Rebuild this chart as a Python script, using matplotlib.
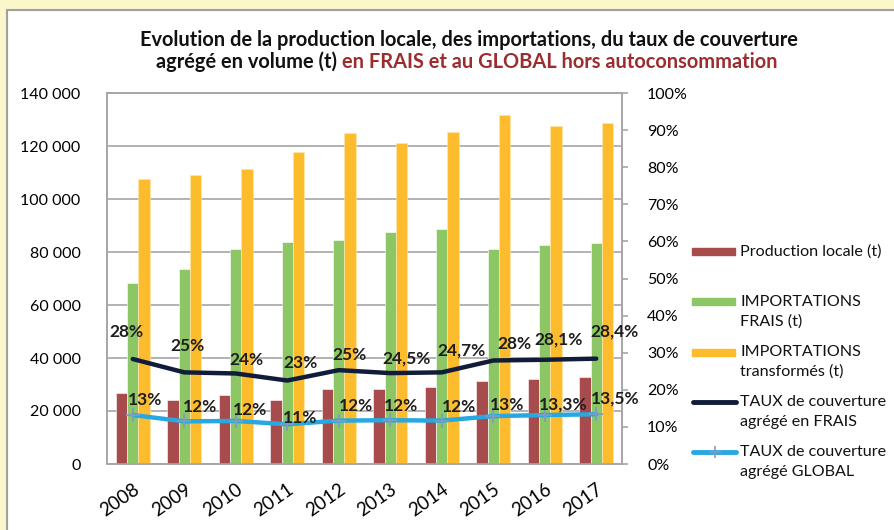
import matplotlib
matplotlib.use('Agg')
import matplotlib.pyplot as plt
from matplotlib.patches import Rectangle
from matplotlib.lines import Line2D
import numpy as np

plt.rcParams['font.family'] = ['Lato', 'DejaVu Sans']

# ---------------- data ----------------
years = ['2008', '2009', '2010', '2011', '2012', '2013', '2014', '2015', '2016', '2017']
production_locale = [26700, 24000, 26000, 24200, 28300, 28300, 29000, 31400, 32200, 33000]
importations_frais = [68200, 73700, 81300, 83600, 84500, 87400, 88800, 81300, 82800, 83500]
importations_transformes = [107700, 109200, 111400, 117900, 124800, 121300, 125200, 131700, 127700, 128800]
taux_frais = [28.3, 24.7, 24.4, 22.5, 25.3, 24.5, 24.7, 27.9, 28.1, 28.4]
taux_global = [13.2, 11.5, 11.6, 10.7, 11.7, 11.8, 11.7, 12.9, 13.2, 13.4]
labels_frais = ['28%', '25%', '24%', '23%', '25%', '24,5%', '24,7%', '28%', '28,1%', '28,4%']
labels_global = ['13%', '12%', '12%', '11%', '12%', '12%', '12%', '13%', '13,3%', '13,5%']
left_ticks = [0, 20000, 40000, 60000, 80000, 100000, 120000, 140000]
left_tick_labels = ['0', '20 000', '40 000', '60 000', '80 000', '100 000', '120 000', '140 000']
right_ticks = [0, 10, 20, 30, 40, 50, 60, 70, 80, 90, 100]
right_tick_labels = ['0%', '10%', '20%', '30%', '40%', '50%', '60%', '70%', '80%', '90%', '100%']
legend_labels = [['Production locale (t)'],
                 ['IMPORTATIONS', 'FRAIS (t)'],
                 ['IMPORTATIONS', 'transformés (t)'],
                 ['TAUX de couverture', 'agrégé en FRAIS'],
                 ['TAUX de couverture', 'agrégé GLOBAL']]
title_line1 = 'Evolution de la production locale, des importations, du taux de couverture'
title_line2a = 'agrégé en volume (t) '
title_line2b = 'en FRAIS et au GLOBAL hors autoconsommation'

# ---------------- style ----------------
W, H = 894, 530
C_RED = '#A84B4D'
C_GREEN = '#8CC665'
C_ORANGE = '#FDBC2E'
C_NAVY = '#101C3A'
C_BLUE = '#27A8E0'
C_MARK = '#7F9CC4'
C_GRID = '#A6A6A6'
C_TITLE_RED = '#9B2D2F'
# label offsets in pixels (dx, dy down-positive) relative to the point
off_frais = [(-6, -27), (3, -26), (11, -13), (13, -18), (11, -15), (16, -15), (20, -22), (21, -16), (14, -20), (18, -27)]
off_global = [(12, -15), (16, -14), (14, -11), (13, -6), (17, -15), (11, -14), (17, -14), (14, -11), (18, -11), (19, -16)]

def fx(px):
    return px / W

def fy(py):
    return 1 - py / H

fig = plt.figure(figsize=(W / 100, H / 100), dpi=100)
fig.patch.set_facecolor('white')

# frame (yellow band + grey border)
fig.patches.append(Rectangle((0, 0), fx(7), 1, transform=fig.transFigure, color='#FBF7CB', zorder=0))
fig.patches.append(Rectangle((0, fy(10)), 1, 10 / H, transform=fig.transFigure, color='#FBF7CB', zorder=0))
fig.add_artist(Line2D([fx(7), fx(7)], [0, fy(10)], transform=fig.transFigure, color='#A0A0A0', lw=1.5))
fig.add_artist(Line2D([fx(7), 1], [fy(10), fy(10)], transform=fig.transFigure, color='#A0A0A0', lw=1.5))

ax = fig.add_axes([fx(107), 1 - 464 / H, (622 - 107) / W, (464 - 93) / H])
ax2 = ax.twinx()

x = np.arange(len(years))
w = 0.22
ax.bar(x - w, production_locale, w, color=C_RED, edgecolor='white', linewidth=0.4, zorder=3)
ax.bar(x, importations_frais, w, color=C_GREEN, edgecolor='white', linewidth=0.4, zorder=3)
ax.bar(x + w, importations_transformes, w, color=C_ORANGE, edgecolor='#FFE9A8', linewidth=0.4, zorder=3)

ax.set_xlim(-0.5, len(years) - 0.5)
ax.set_ylim(0, 140000)
ax.set_yticks(left_ticks)
ax.set_yticklabels(left_tick_labels)
ax.yaxis.grid(True, color=C_GRID, linewidth=1.2)
ax.set_axisbelow(True)
ax.tick_params(axis='y', length=0, pad=19, labelsize=11.5)
ax.set_xticks(x)
ax.set_xticklabels(years, rotation=35, ha='right', rotation_mode='anchor', fontsize=13.5)
ax.tick_params(axis='x', length=0, pad=12)

ax2.plot(x, taux_frais, color=C_NAVY, lw=3.2, solid_capstyle='round', zorder=4)
ax2.plot(x, taux_global, color=C_BLUE, lw=3.2, marker='+', ms=10, mec=C_MARK, mew=1.3,
         solid_capstyle='round', zorder=4)
ax2.set_ylim(0, 100)
ax2.set_yticks(right_ticks)
ax2.set_yticklabels(right_tick_labels)
ax2.tick_params(axis='y', length=4, width=1.2, color=C_GRID, pad=14, labelsize=11.5)

for a in (ax, ax2):
    for s in a.spines.values():
        s.set_color(C_GRID)
        s.set_linewidth(1.2)

for i, lbl in enumerate(labels_frais):
    dx, dy = off_frais[i]
    ax2.annotate(lbl, (x[i], taux_frais[i]), xytext=(dx, -dy), textcoords='offset pixels',
                 ha='center', va='center', fontsize=12.5, fontweight='bold', color='#1E1E1E', zorder=6)
for i, lbl in enumerate(labels_global):
    dx, dy = off_global[i]
    ax2.annotate(lbl, (x[i], taux_global[i]), xytext=(dx, -dy), textcoords='offset pixels',
                 ha='center', va='center', fontsize=12.5, fontweight='bold', color='#1E1E1E', zorder=6)

# ---------------- legend (manual) ----------------
key_y = [251.7, 301.7, 352, 401.7, 451.7]
for k, (lines, yk) in enumerate(zip(legend_labels, key_y)):
    if k == 0:
        fig.patches.append(Rectangle((fx(692), fy(yk + 3.5)), fx(43), 7 / H, transform=fig.transFigure, color=C_RED))
    elif k == 1:
        fig.patches.append(Rectangle((fx(692), fy(yk + 3.5)), fx(43), 7 / H, transform=fig.transFigure, color=C_GREEN))
    elif k == 2:
        fig.patches.append(Rectangle((fx(692), fy(yk + 3.5)), fx(43), 7 / H, transform=fig.transFigure, color=C_ORANGE))
    elif k == 3:
        fig.add_artist(Line2D([fx(693), fx(736)], [fy(yk), fy(yk)], transform=fig.transFigure,
                              color=C_NAVY, lw=3.5, solid_capstyle='round'))
    else:
        fig.add_artist(Line2D([fx(693), fx(736)], [fy(yk), fy(yk)], transform=fig.transFigure,
                              color=C_BLUE, lw=3.5, solid_capstyle='round'))
        fig.add_artist(Line2D([fx(714.5)], [fy(yk)], transform=fig.transFigure, marker='+', ms=8,
                              mec=C_MARK, mew=1.2, lw=0))
    for j, t in enumerate(lines):
        fig.text(fx(740), fy(yk + 20 * j), t, ha='left', va='center', fontsize=11.6, color='#111111')

# ---------------- title ----------------
t1 = fig.text(fx(469), fy(40), title_line1, ha='center', va='center', fontsize=12.5,
              fontweight='bold', color='#111111')
ta = fig.text(0, fy(62), title_line2a, ha='left', va='center', fontsize=12.5, fontweight='bold', color='#111111')
tb = fig.text(0, fy(62), title_line2b, ha='left', va='center', fontsize=12.5, fontweight='bold', color=C_TITLE_RED)
fig.canvas.draw()
r = fig.canvas.get_renderer()
scale = 662 / t1.get_window_extent(r).width
for t in (t1, ta, tb):
    t.set_fontsize(12.5 * scale)
fig.canvas.draw()
wa = ta.get_window_extent(r).width
wb = tb.get_window_extent(r).width
start = 467 - (wa + wb) / 2
ta.set_x(fx(start))
tb.set_x(fx(start + wa))

fig.savefig('out.png', dpi=100)
